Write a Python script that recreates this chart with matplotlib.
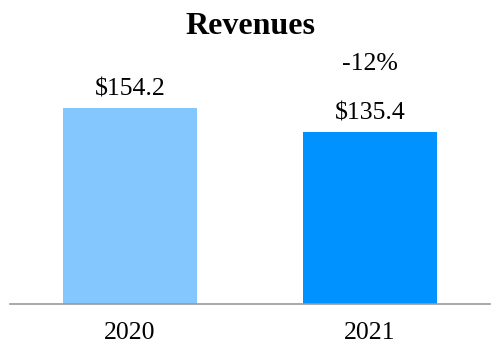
import numpy as np
from matplotlib import pyplot as plt

years = ['2020', '2021']
revenues = [154.2, 135.4]
value_labels = ['$154.2', '$135.4']
change_label = '-12%'
colors = ['#84C7FE', '#0092FF']

plt.rcParams['font.family'] = ['Liberation Serif', 'DejaVu Serif']

fig = plt.figure(figsize=(5, 3.6), dpi=100)
ax = fig.add_axes([0.02, 56 / 360, 0.96, 254 / 360])

x = np.arange(len(years))
ax.bar(x, revenues, width=0.56, color=colors)
ax.set_xlim(-0.5, 1.5)
ax.set_ylim(0, 200)

for xi, val, lab in zip(x, revenues, value_labels):
    ax.annotate(lab, (xi, val), xytext=(0, 9), textcoords='offset points',
                ha='center', va='baseline', fontsize=18.5, annotation_clip=False)

# change marker above the 2021 label
ax.annotate(change_label, (x[1], revenues[1]), xytext=(0, 45), textcoords='offset points',
            ha='center', va='baseline', fontsize=18.5, annotation_clip=False)

ax.set_xticks(x)
ax.set_xticklabels(years, fontsize=18.5)
ax.set_yticks([])
ax.tick_params(axis='x', length=0, pad=13)
for s in ['top', 'left', 'right']:
    ax.spines[s].set_visible(False)
ax.spines['bottom'].set_color('#999999')
ax.spines['bottom'].set_linewidth(1.2)

fig.text(0.5, 1 - 26 / 360, 'Revenues', ha='center', va='center',
         fontsize=23, fontweight='bold')

fig.savefig('out.png', dpi=100)
